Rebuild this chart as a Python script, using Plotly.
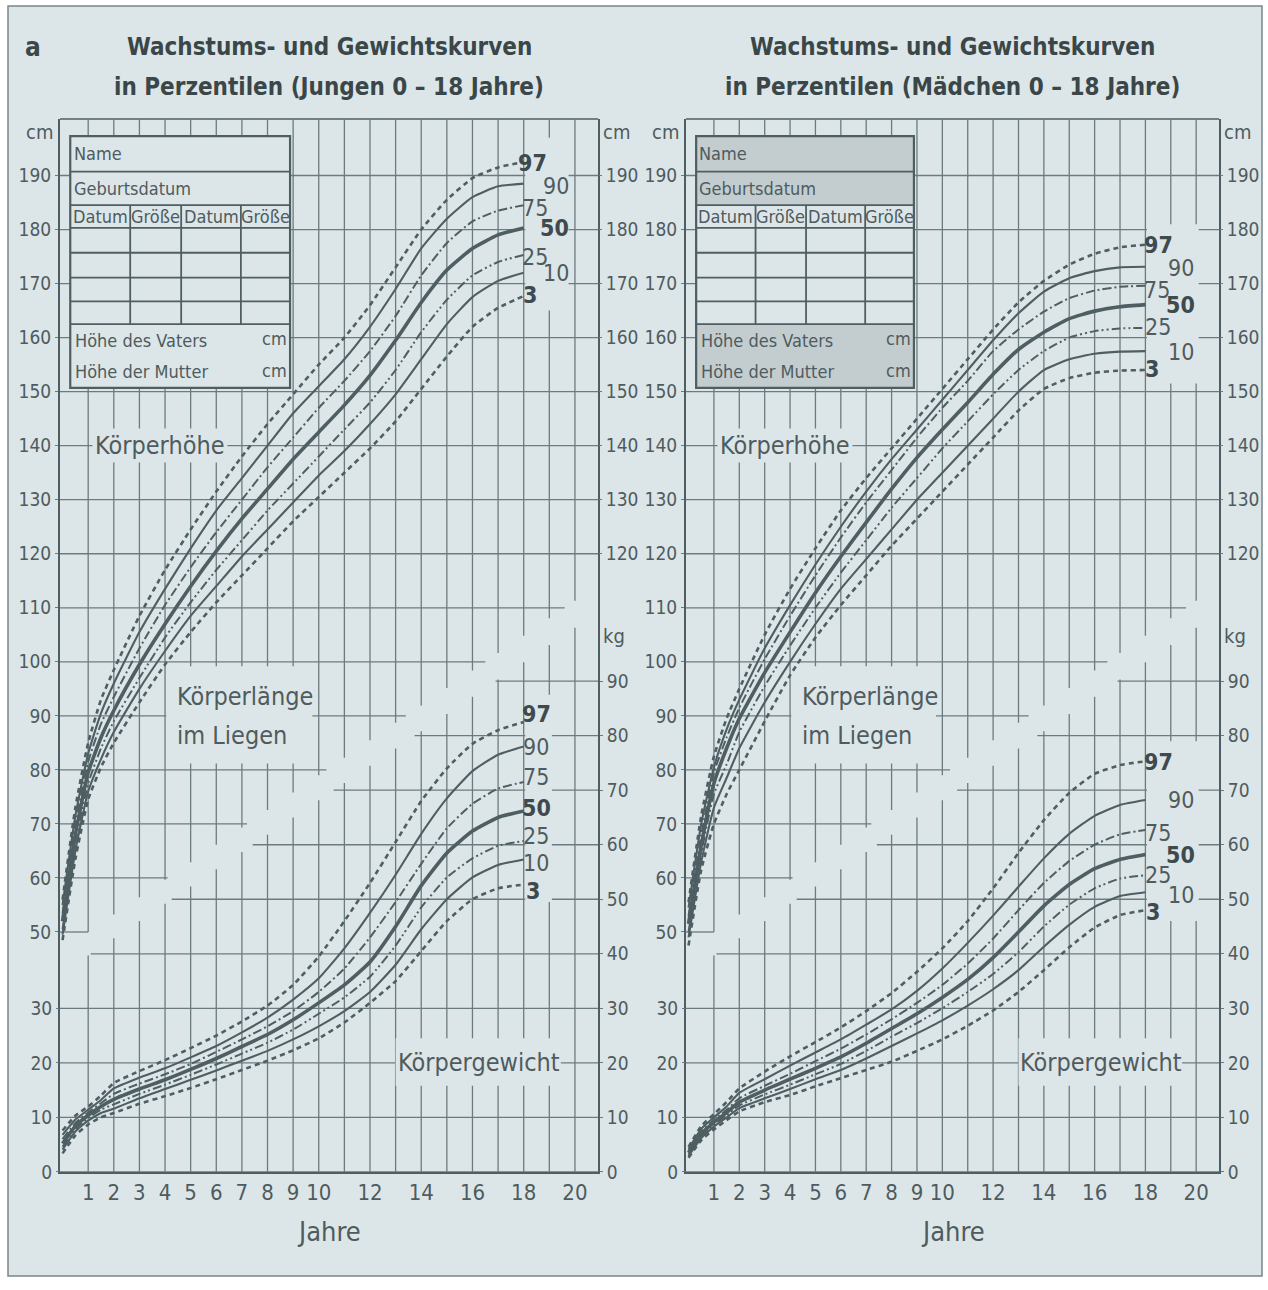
import plotly.graph_objects as go

# ---------------- data ----------------
ages = [0, 0.5, 1, 1.5, 2, 3, 4, 5, 6, 7, 8, 9, 10, 11, 12, 13, 14, 15, 16, 17, 18]
percentiles = ["97", "90", "75", "50", "25", "10", "3"]

boys_height_p97 = [56, 73, 85, 93, 98.5, 108.5, 117, 124.5, 131.5, 138, 144, 149.5, 155, 160, 166, 173, 180, 185.5, 189.5, 191.5, 192.5]
boys_height_p90 = [55, 71.5, 83, 90.5, 96, 105.5, 113.5, 121, 128, 134, 140, 146, 151, 156, 162, 169, 176.5, 182, 186, 188, 188.5]
boys_height_p75 = [53.5, 70, 81.5, 88.5, 93.5, 102.5, 110.5, 117.5, 124, 130, 136, 141.5, 147, 152, 157.5, 164, 171.5, 177.5, 181.5, 183.5, 184.5]
boys_height_p50 = [52, 68, 79.5, 86, 91, 99.5, 107, 114, 120.5, 126.5, 132, 137.5, 142.5, 147.5, 153, 159.5, 166.5, 172.5, 176.5, 179, 180.3]
boys_height_p25 = [50.5, 66.5, 77.5, 84, 89, 97, 104.5, 111, 117, 122.5, 128, 133, 138, 143, 148, 154, 161, 167, 171.5, 174, 175.3]
boys_height_p10 = [49.5, 65, 76, 82, 87, 95, 102, 108.5, 114, 119.5, 124.5, 129.5, 134.5, 139, 144, 149.5, 156, 162.5, 167.5, 170.5, 172]
boys_height_p3 = [48.5, 63.5, 74.5, 80.5, 85, 92.5, 99.5, 105.5, 111, 116, 121, 126, 130.5, 135, 139.5, 144.5, 150.5, 156.5, 162, 165.5, 167.7]

boys_weight_p97 = [7.6, 10.3, 12.0, 14.0, 16.3, 18.5, 20.5, 22.7, 25, 27.6, 30.5, 34.3, 39.5, 46, 53, 60.5, 68, 74, 78.5, 81, 82.5]
boys_weight_p90 = [6.8, 9.6, 11.4, 13.2, 15.3, 17.3, 19.0, 21, 23.1, 25.6, 28.3, 31.6, 35.5, 41, 47.5, 54.5, 62, 68.5, 73.5, 76.5, 78]
boys_weight_p75 = [6.0, 9.0, 10.9, 12.6, 14.3, 16.2, 17.9, 19.8, 22, 24.3, 26.7, 29.5, 33, 37.3, 43, 49.5, 56.5, 63, 67.5, 70.3, 71.5]
boys_weight_p50 = [5.2, 8.4, 10.4, 12.0, 13.3, 15.2, 16.9, 18.8, 20.8, 23, 25.2, 27.9, 31, 34.3, 38.5, 45, 52.5, 58.5, 62.5, 65, 66.2]
boys_weight_p25 = [4.6, 7.9, 9.9, 11.4, 12.4, 14.3, 16.0, 17.8, 19.7, 21.7, 23.7, 26.1, 29, 32, 35.8, 41.5, 48.5, 54, 57.5, 59.8, 60.7]
boys_weight_p10 = [4.1, 7.4, 9.4, 10.8, 11.6, 13.5, 15.2, 16.9, 18.6, 20.4, 22.2, 24.3, 26.7, 29.5, 33, 38, 44.5, 50, 54, 56.3, 57.3]
boys_weight_p3 = [3.4, 6.7, 8.7, 10.0, 10.8, 12.5, 13.9, 15.4, 17, 18.7, 20.4, 22.3, 24.5, 27.4, 31, 35, 40.5, 46, 50, 52, 52.7]

girls_height_p97 = [55.5, 71.5, 82.5, 89.5, 95, 105, 113.5, 121, 128, 134, 139.5, 145, 150.5, 156, 161.5, 166.5, 170.5, 173.5, 175.5, 176.7, 177.2]
girls_height_p90 = [54.5, 70, 80.5, 87.5, 93, 102.5, 110.5, 118, 125, 131.5, 137.5, 143, 148.5, 154, 159.5, 164.5, 168.5, 171, 172.3, 173, 173.1]
girls_height_p75 = [53, 68, 79.5, 86, 91.5, 100.5, 108.5, 116, 123, 129.5, 135.5, 141.5, 147, 152, 157.5, 161.5, 164.8, 167.3, 168.7, 169.4, 169.6]
girls_height_p50 = [51.5, 66, 77.5, 84, 89.5, 98, 105.5, 112.8, 119.5, 125.8, 132, 137.8, 143, 148, 153.2, 157.8, 161, 163.5, 164.9, 165.7, 166.1]
girls_height_p25 = [50, 64.5, 75.5, 81, 87, 95.5, 103, 110, 116.5, 122.5, 128.5, 134, 139.5, 144.5, 149.5, 154, 157.5, 160, 161.2, 161.7, 161.8]
girls_height_p10 = [49, 63, 73, 78.5, 84, 92.5, 100, 107, 113.5, 119, 124.5, 130, 135, 140, 145, 150, 154, 156, 157, 157.4, 157.5]
girls_height_p3 = [47.5, 61.5, 70, 75.5, 80, 89, 97.5, 104.5, 110.5, 116, 121.5, 126.5, 131.5, 136.5, 141.5, 146.5, 150.5, 152.5, 153.5, 153.9, 154]

girls_weight_p97 = [4.6, 8.4, 10.6, 12.8, 15.3, 18.4, 21.2, 23.8, 26.5, 29.5, 32.8, 36.7, 41, 46, 52, 58.5, 64.5, 69.5, 73, 74.6, 75.3]
girls_weight_p90 = [4.2, 7.9, 10.0, 12.0, 14.5, 17.0, 19.5, 21.9, 24.3, 27, 29.8, 33.2, 37.3, 42, 47, 52.3, 57.5, 62, 65.3, 67.3, 68.2]
girls_weight_p75 = [3.8, 7.4, 9.5, 11.4, 13.5, 15.8, 18.0, 20.3, 22.6, 25.2, 28, 31, 34.3, 38.2, 42.8, 48, 53, 57, 60, 61.9, 62.7]
girls_weight_p50 = [3.5, 7.0, 9.1, 10.9, 12.8, 15.0, 17.0, 19.0, 21.1, 23.6, 26.3, 29, 32, 35.3, 39.3, 44, 48.8, 52.7, 55.6, 57.3, 58.2]
girls_weight_p25 = [3.2, 6.6, 8.7, 10.4, 12.2, 14.2, 16.0, 17.9, 19.8, 22.2, 24.8, 27.3, 30, 33, 36.3, 40.3, 45, 49, 52, 53.8, 54.4]
girls_weight_p10 = [2.9, 6.2, 8.3, 10.0, 11.7, 13.5, 15.2, 17.0, 18.7, 20.8, 23.1, 25.4, 27.8, 30.5, 33.5, 37, 41.3, 45.3, 48.6, 50.6, 51.3]
girls_weight_p3 = [2.6, 5.8, 7.8, 9.5, 11.1, 12.8, 14.1, 15.7, 17.2, 18.7, 20.2, 22.2, 24.3, 26.8, 29.6, 33, 37, 41.2, 44.8, 47.1, 48]

year_ticks = [1, 2, 3, 4, 5, 6, 7, 8, 9, 10, 12, 14, 16, 18, 20]
cm_ticks_left = [50, 60, 70, 80, 90, 100, 110, 120, 130, 140, 150, 160, 170, 180, 190]
kg_ticks_left = [0, 10, 20, 30]
cm_ticks_right = [120, 130, 140, 150, 160, 170, 180, 190]
kg_ticks_right = [0, 10, 20, 30, 40, 50, 60, 70, 80, 90]

# ---------------- styles ----------------
FONT = "Liberation Sans Narrow, DejaVu Sans Condensed, Arial Narrow, Roboto, sans-serif"
BG = "#dce6e8"
LINE = "#4e5e62"
GRID = "#6c7b7f"
TXT = "#4f5b5e"
TABLE_GRAY = "#c3cdd0"

styles = {
    "97": dict(width=2.6, dash="5px,4px"),
    "90": dict(width=2.1, dash="solid"),
    "75": dict(width=2.0, dash="9px,3px,2px,3px"),
    "50": dict(width=3.6, dash="solid"),
    "25": dict(width=2.0, dash="9px,3px,2px,3px,2px,3px"),
    "10": dict(width=2.1, dash="solid"),
    "3": dict(width=2.6, dash="5px,4px"),
}

W, H = 1268, 1290
Y_DOM = [1 - 1182 / H, 1 - 120 / H]
CM_RANGE = [5.6, 200.46]
KG_RANGE = [0, 193.09]
X_RANGE = [-0.1, 20.9]

panels = [
    dict(name="boys", xa="x", ycm="y", ykg="y2", ycmr="y3", ykgr="y4",
         xdom=[60 / W, 598 / W],
         height=[boys_height_p97, boys_height_p90, boys_height_p75, boys_height_p50,
                 boys_height_p25, boys_height_p10, boys_height_p3],
         weight=[boys_weight_p97, boys_weight_p90, boys_weight_p75, boys_weight_p50,
                 boys_weight_p25, boys_weight_p10, boys_weight_p3],
         title1="Wachstums- und Gewichtskurven",
         title2="in Perzentilen (Jungen 0 – 18 Jahre)",
         hlab_x=[18.36, 19.26, 18.44, 19.22, 18.44, 19.26, 18.24],
         hlab_y=[192.4, 188.0, 184.0, 180.3, 175.0, 172.0, 167.8],
         wlab_x=[18.48] * 6 + [18.35],
         wlab_y=[84.0, 78.0, 72.5, 66.7, 61.6, 56.7, 51.6],
         hmask=[18.06, 19.75, 165, 197], wmask=[18.06, 19.1, 49.5, 87.5],
         table_fill=[BG, BG, BG]),
    dict(name="girls", xa="x2", ycm="y5", ykg="y6", ycmr="y7", ykgr="y8",
         xdom=[686 / W, 1219 / W],
         height=[girls_height_p97, girls_height_p90, girls_height_p75, girls_height_p50,
                 girls_height_p25, girls_height_p10, girls_height_p3],
         weight=[girls_weight_p97, girls_weight_p90, girls_weight_p75, girls_weight_p50,
                 girls_weight_p25, girls_weight_p10, girls_weight_p3],
         title1="Wachstums- und Gewichtskurven",
         title2="in Perzentilen (Mädchen 0 – 18 Jahre)",
         hlab_x=[18.5, 19.4, 18.45, 19.4, 18.5, 19.4, 18.25],
         hlab_y=[177.2, 172.9, 168.8, 166.0, 161.9, 157.3, 154.2],
         wlab_x=[18.5, 19.4, 18.5, 19.4, 18.5, 19.4, 18.3],
         wlab_y=[75.1, 68.2, 62.2, 58.2, 54.5, 50.7, 47.6],
         hmask=[18.06, 20.1, 151.5, 181], wmask=[18.06, 20.1, 46, 79],
         table_fill=[TABLE_GRAY, BG, TABLE_GRAY]),
]

fig = go.Figure()
shapes = []
annotations = []

# outer sheet
shapes.append(dict(type="rect", xref="paper", yref="paper", x0=8 / W, x1=1262 / W,
                   y0=1 - 1287 / H, y1=1 - 6 / H, fillcolor=BG,
                   line=dict(color="#7a8589", width=1.5), layer="below"))

def seg(xa, ya, x0, x1, y0, y1, color=GRID, width=1.3, layer="below"):
    return dict(type="line", xref=xa, yref=ya, x0=x0, x1=x1, y0=y0, y1=y1,
                line=dict(color=color, width=width), layer=layer)

def rect(xa, ya, x0, x1, y0, y1, fill, lw=0, layer="below"):
    return dict(type="rect", xref=xa, yref=ya, x0=x0, x1=x1, y0=y0, y1=y1,
                fillcolor=fill, line=dict(color=LINE, width=lw), layer=layer)

def cm_end(c):
    return 1 + (c - 50) * 0.31

def kg_start(k):
    return 1.1 + (k - 40) * 0.316

for p in panels:
    xa, ycm, ykg = p["xa"], p["ycm"], p["ykg"]
    # horizontal cm grid
    for c in range(50, 200, 10):
        x1 = X_RANGE[1] if c >= 120 else cm_end(c)
        shapes.append(seg(xa, ycm, X_RANGE[0], x1, c, c))
    # horizontal kg grid
    for k in range(0, 100, 10):
        x0 = X_RANGE[0] if k <= 30 else kg_start(k)
        shapes.append(seg(xa, ykg, x0, X_RANGE[1], k, k))
    # vertical year grid, interrupted by the diagonal band
    for n in range(1, 21):
        u = 50 + (n - 1) / 0.31
        l = 40 + (n - 1.1) / 0.316
        shapes.append(seg(xa, ycm, n, n, u, CM_RANGE[1]))
        shapes.append(seg(xa, ykg, n, n, 0, l))
    # top frame line
    shapes.append(dict(type="line", xref=xa + " domain", yref=ycm + " domain",
                       x0=0, x1=1, y0=1, y1=1, line=dict(color=LINE, width=1.5), layer="below"))
    # masks around labels
    hm, wm = p["hmask"], p["wmask"]
    shapes.append(rect(xa, ycm, hm[0], hm[1], hm[2], hm[3], BG))
    shapes.append(rect(xa, ykg, wm[0], wm[1], wm[2], wm[3], BG))
    shapes.append(rect(xa, ycm, 4.05, 9.75, 81.2, 99.2, BG))
    shapes.append(rect(xa, ykg, 13.0, 19.45, 15.8, 24.5, BG))

    # form table
    tx0, tx1 = 0.3, 8.88
    cols = [2.64, 4.63, 6.96]
    rows = [197.3, 190.7, 184.5, 180.3, 175.7, 171.1, 166.7, 162.5, 150.7]
    shapes.append(rect(xa, ycm, tx0, tx1, rows[2], rows[0], p["table_fill"][0]))
    shapes.append(rect(xa, ycm, tx0, tx1, rows[7], rows[2], p["table_fill"][1]))
    shapes.append(rect(xa, ycm, tx0, tx1, rows[8], rows[7], p["table_fill"][2]))
    for r in rows[1:-1]:
        shapes.append(seg(xa, ycm, tx0, tx1, r, r, color=LINE, width=1.8))
    for cx in cols:
        shapes.append(seg(xa, ycm, cx, cx, rows[7], rows[2], color=LINE, width=1.8))
    shapes.append(rect(xa, ycm, tx0, tx1, rows[8], rows[0], "rgba(0,0,0,0)", lw=2.2))

    tf = dict(family=FONT, size=18, color=TXT)
    hdr_y = (rows[2] + rows[3]) / 2
    annotations += [
        dict(x=tx0 + 0.05, y=(rows[0] + rows[1]) / 2, xref=xa, yref=ycm, text="Name",
             showarrow=False, xanchor="left", font=tf),
        dict(x=tx0 + 0.05, y=(rows[1] + rows[2]) / 2, xref=xa, yref=ycm, text="Geburtsdatum",
             showarrow=False, xanchor="left", font=tf),
        dict(x=(tx0 + cols[0]) / 2, y=hdr_y, xref=xa, yref=ycm, text="Datum",
             showarrow=False, xanchor="center", font=tf),
        dict(x=(cols[0] + cols[1]) / 2, y=hdr_y, xref=xa, yref=ycm, text="Größe",
             showarrow=False, xanchor="center", font=tf),
        dict(x=(cols[1] + cols[2]) / 2, y=hdr_y, xref=xa, yref=ycm, text="Datum",
             showarrow=False, xanchor="center", font=tf),
        dict(x=(cols[2] + tx1) / 2, y=hdr_y, xref=xa, yref=ycm, text="Größe",
             showarrow=False, xanchor="center", font=tf),
        dict(x=tx0 + 0.1, y=159.5, xref=xa, yref=ycm, text="Höhe des Vaters",
             showarrow=False, xanchor="left", font=tf),
        dict(x=tx0 + 0.1, y=153.7, xref=xa, yref=ycm, text="Höhe der Mutter",
             showarrow=False, xanchor="left", font=tf),
        dict(x=tx1 - 0.05, y=159.8, xref=xa, yref=ycm, text="cm",
             showarrow=False, xanchor="right", font=tf),
        dict(x=tx1 - 0.05, y=154.0, xref=xa, yref=ycm, text="cm",
             showarrow=False, xanchor="right", font=tf),
    ]

    # invisible anchors so the right-hand axes are drawn
    fig.add_trace(go.Scatter(x=[None], y=[None], xaxis=xa, yaxis=p["ycmr"], mode="markers",
                             showlegend=False, hoverinfo="skip"))
    fig.add_trace(go.Scatter(x=[None], y=[None], xaxis=xa, yaxis=p["ykgr"], mode="markers",
                             showlegend=False, hoverinfo="skip"))

    # percentile curves
    for i, pc in enumerate(percentiles):
        st = styles[pc]
        for vals, ya in ((p["height"][i], ycm), (p["weight"][i], ykg)):
            fig.add_trace(go.Scatter(x=ages, y=vals, xaxis=xa, yaxis=ya, mode="lines",
                                     line=dict(color=LINE, width=st["width"], dash=st["dash"],
                                               shape="spline", smoothing=0.5),
                                     showlegend=False, hoverinfo="skip"))
        bold = pc in ("97", "50", "3")
        lf = dict(family=FONT, size=23, color="#3e4a4d" if bold else TXT)
        txt = "<b>%s</b>" % pc if bold else pc
        annotations.append(dict(x=p["hlab_x"][i], y=p["hlab_y"][i], xref=xa, yref=ycm,
                                text=txt, showarrow=False, xanchor="center", font=lf))
        annotations.append(dict(x=p["wlab_x"][i], y=p["wlab_y"][i], xref=xa, yref=ykg,
                                text=txt, showarrow=False, xanchor="center", font=lf))

    big = dict(family=FONT, size=25, color=TXT)
    tfont = dict(family=FONT, size=24, color="#3b4649")
    cxp = (p["xdom"][0] + p["xdom"][1]) / 2
    annotations += [
        dict(x=cxp, y=1 - 47 / H, xref="paper", yref="paper", text="<b>" + p["title1"] + "</b>",
             showarrow=False, xanchor="center", yanchor="middle", font=tfont),
        dict(x=cxp, y=1 - 88 / H, xref="paper", yref="paper", text="<b>" + p["title2"] + "</b>",
             showarrow=False, xanchor="center", yanchor="middle", font=tfont),
        dict(x=3.8, y=140, xref=xa, yref=ycm, text="Körperhöhe", showarrow=False,
             xanchor="center", yanchor="middle", font=big, bgcolor=BG, borderpad=2),
        dict(x=4.4, y=93.5, xref=xa, yref=ycm, text="Körperlänge", showarrow=False,
             xanchor="left", yanchor="middle", font=big),
        dict(x=4.4, y=86.3, xref=xa, yref=ycm, text="im Liegen", showarrow=False,
             xanchor="left", yanchor="middle", font=big),
        dict(x=16.25, y=20, xref=xa, yref=ykg, text="Körpergewicht", showarrow=False,
             xanchor="center", yanchor="middle", font=big),
        dict(x=cxp, y=1 - 1242 / H, xref="paper", yref="paper",
             text="Jahre", showarrow=False, xanchor="center", yanchor="middle",
             font=dict(family=FONT, size=27, color=TXT)),
        dict(x=p["xdom"][0] - 0.004, y=1 - 133 / H, xref="paper", yref="paper", text="cm",
             showarrow=False, xanchor="right", yanchor="middle",
             font=dict(family=FONT, size=20, color=TXT)),
        dict(x=p["xdom"][1] + 0.002, y=1 - 133 / H, xref="paper", yref="paper", text="cm",
             showarrow=False, xanchor="left", yanchor="middle",
             font=dict(family=FONT, size=20, color=TXT)),
        dict(x=p["xdom"][1] + 0.002, y=1 - 641 / H, xref="paper", yref="paper", text="kg",
             showarrow=False, xanchor="left", yanchor="middle",
             font=dict(family=FONT, size=20, color=TXT)),
    ]

annotations.append(dict(x=33 / W, y=1 - 47 / H, xref="paper", yref="paper", text="<b>a</b>",
                        showarrow=False, xanchor="center", yanchor="middle",
                        font=dict(family=FONT, size=26, color="#3b4649")))

xtickfont = dict(family=FONT, size=22, color=TXT)
ytickfont = dict(family=FONT, size=19, color=TXT)
layout = dict(width=W, height=H, margin=dict(l=0, r=0, t=0, b=0),
              paper_bgcolor="white", plot_bgcolor="rgba(0,0,0,0)",
              shapes=shapes, annotations=annotations, showlegend=False)

def ykey(i):
    return "yaxis" if i == "y" else "yaxis" + i[1:]

for idx, p in enumerate(panels):
    xkey = "xaxis" if idx == 0 else "xaxis2"
    layout[xkey] = dict(domain=p["xdom"], range=X_RANGE, anchor=p["ycm"], tickvals=year_ticks,
                        showgrid=False, zeroline=False, showline=True, linecolor=LINE, linewidth=2,
                        ticks="", tickfont=xtickfont, fixedrange=True)
    common = dict(domain=Y_DOM, showgrid=False, zeroline=False, tickfont=ytickfont,
                  ticks="outside", ticklen=3, tickcolor=GRID, tickwidth=1.3, fixedrange=True)
    layout[ykey(p["ycm"])] = dict(common, range=CM_RANGE, anchor=p["xa"], side="left",
                                  tickvals=cm_ticks_left, showline=True, linecolor=LINE, linewidth=2)
    layout[ykey(p["ykg"])] = dict(common, range=KG_RANGE, anchor=p["xa"], side="left",
                                  overlaying=p["ycm"], tickvals=kg_ticks_left, showline=False)
    layout[ykey(p["ycmr"])] = dict(common, range=CM_RANGE, anchor=p["xa"], side="right",
                                   overlaying=p["ycm"], tickvals=cm_ticks_right, showline=False)
    layout[ykey(p["ykgr"])] = dict(common, range=KG_RANGE, anchor=p["xa"], side="right",
                                   overlaying=p["ycm"], tickvals=kg_ticks_right, showline=True,
                                   linecolor=LINE, linewidth=2)

fig.update_layout(**layout)
fig.write_html("out.html")
